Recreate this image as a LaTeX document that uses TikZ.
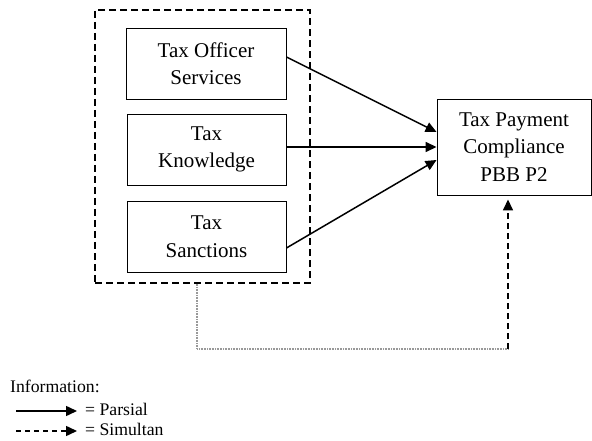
\documentclass[tikz,border=0pt]{standalone}
\usepackage{fontspec}
\setmainfont{Liberation Serif}
\usetikzlibrary{arrows.meta}
\begin{document}
\begin{tikzpicture}[x=1pt,y=-1pt,
  box/.style={draw, line width=0.9pt, align=center, inner sep=0pt,
    font=\fontsize{21}{27.5}\selectfont},
  grpbox/.style={draw, line width=1.5pt, dash pattern=on 7pt off 4pt, inner sep=0pt},
  arr/.style={line width=1.5pt, -{Triangle[length=11pt,width=10pt]}},
  dasharr/.style={line width=1.5pt, dash pattern=on 6pt off 4pt, -{Triangle[length=11pt,width=10pt]}},
  dotline/.style={line width=1.2pt, gray!80, dash pattern=on 0.8pt off 0.8pt},
  legtext/.style={inner sep=0pt, anchor=base west, font=\fontsize{17.7}{20}\selectfont}
]
\useasboundingbox (0,0) rectangle (592,441);
\node[grpbox, minimum width=215pt, minimum height=273pt] (grp) at (202.5,146.5) {};
\node[box, minimum width=160pt, minimum height=71pt] (ts) at (206,63.5) {Tax Officer\\Services};
\node[box, minimum width=159pt, minimum height=71pt] (tk) at (206.5,149.5) {Tax\\Knowledge};
\node[box, minimum width=159pt, minimum height=71pt] (tsa) at (206.5,236.5) {Tax\\Sanctions};
\node[box, minimum width=154pt, minimum height=96pt] (tp) at (514,147) {Tax Payment\\Compliance\\PBB P2};

\draw[arr] ([yshift=6.5pt]ts.east) -- ([yshift=15pt]tp.west);
\draw[arr] (tk.east |- tp.west) -- (tp.west);
\draw[arr] ([yshift=-11.5pt]tsa.east) -- ([yshift=-13pt]tp.west);

\coordinate (k1) at (197,349);
\coordinate (k2) at (508,349);
\draw[dotline] ([xshift=-5.5pt]grp.south) -- (k1) -- (k2);
\draw[dasharr, shorten >=4pt] (k2) -- ([xshift=-6pt]tp.south);

\node[legtext] (info) at (10,392.5) {Information:};
\coordinate (l1s) at (16,411);
\coordinate (l1e) at (77,411);
\draw[arr] (l1s) -- (l1e);
\node[legtext] (lp) at (85,415) {= Parsial};
\coordinate (l2s) at (16,431);
\coordinate (l2e) at (77,431);
\draw[line width=1.5pt, dash pattern=on 5pt off 4pt, -{Triangle[length=11pt,width=10pt]}] (l2s) -- (l2e);
\node[legtext] (ls) at (85,435.5) {= Simultan};
\end{tikzpicture}
\end{document}
